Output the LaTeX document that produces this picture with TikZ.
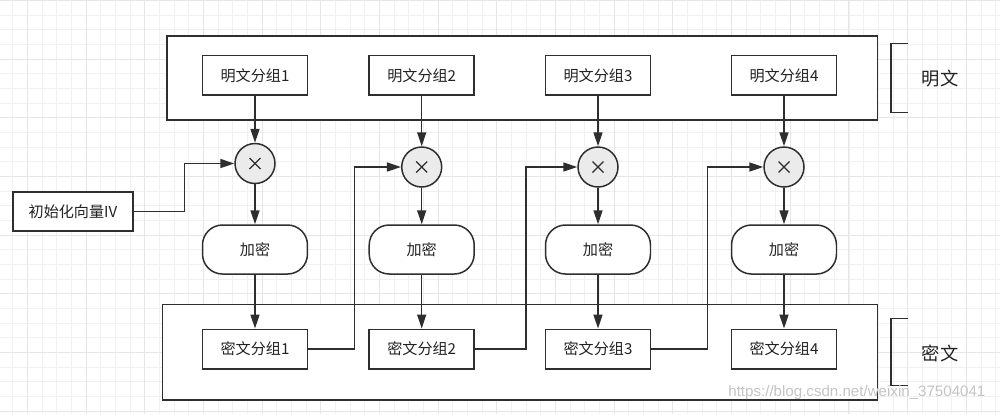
\documentclass[tikz,border=0pt]{standalone}
\usepackage{fontspec}
\setmainfont{Noto Sans CJK SC}
\newfontfamily\wmfont{Liberation Sans}
\usetikzlibrary{arrows.meta}
\definecolor{ln}{HTML}{2E2E2E}
\definecolor{txt}{HTML}{222222}
\definecolor{gminor}{HTML}{F0F0F0}
\definecolor{gmajor}{HTML}{E6E6E6}
\definecolor{xorfill}{HTML}{EBEBEB}
\definecolor{wm}{HTML}{C4C4C4}
\begin{document}
\begin{tikzpicture}[x=0.02cm,y=-0.02cm,
  line width=0.85pt,
  box/.style={draw=ln, fill=white, minimum width=2.1cm, minimum height=0.79cm, inner sep=0pt,
              font=\fontsize{8.6}{10}\selectfont, text=txt},
  group/.style={draw=ln, fill=white, inner sep=0pt},
  pill/.style={box, rounded corners=0.4cm, minimum height=0.98cm},
  xor/.style={circle, draw=ln, fill=xorfill, minimum size=0.8cm, inner sep=0pt,
              path picture={
                \draw[ln, line width=0.75pt]
                  ([shift={(-5.5,-5.5)}]path picture bounding box.center) --
                  ([shift={(5.5,5.5)}]path picture bounding box.center);
                \draw[ln, line width=0.75pt]
                  ([shift={(-5.5,5.5)}]path picture bounding box.center) --
                  ([shift={(5.5,-5.5)}]path picture bounding box.center);}},
  arr/.style={draw=ln, -{Triangle[length=0.28cm,width=0.18cm]}},
  conn/.style={draw=ln},
  lbl/.style={font=\fontsize{10.4}{12}\selectfont, text=txt}]

\useasboundingbox (0,0) rectangle (1000,414);
\fill[white] (0,0) rectangle (1000,414);

% grid
\foreach \i in {0,...,67} {
  \pgfmathsetmacro\gx{12.7+14.67*\i}
  \draw[gminor, line width=0.45pt] (\gx,0) -- (\gx,414);
}
\foreach \j in {0,...,27} {
  \pgfmathsetmacro\gy{0.33+14.67*\j}
  \draw[gminor, line width=0.45pt] (0,\gy) -- (1000,\gy);
}
\foreach \i in {0,...,16} {
  \pgfmathsetmacro\gx{27.37+58.68*\i}
  \draw[gmajor, line width=0.5pt] (\gx,0) -- (\gx,414);
}
\foreach \j in {0,...,7} {
  \pgfmathsetmacro\gy{0.33+58.68*\j}
  \draw[gmajor, line width=0.5pt] (0,\gy) -- (1000,\gy);
}

% group boxes
\node[group, minimum width=14.21cm, minimum height=1.686cm] (top) at (522.3,77.9) {};
\node[group, minimum width=14.31cm, minimum height=1.914cm] (bot) at (520,352.2) {};

% plaintext blocks
\node[box] (p1) at (255,75.3) {明文分组1};
\node[box] (p2) at (421.7,75.3) {明文分组2};
\node[box] (p3) at (598,75.3) {明文分组3};
\node[box] (p4) at (784,75.3) {明文分组4};

% xor circles
\node[xor] (x1) at (255,163.5) {};
\node[xor] (x2) at (421.7,167) {};
\node[xor] (x3) at (598,167) {};
\node[xor] (x4) at (784,167) {};

% encrypt
\node[pill] (e1) at (255,249.5) {加密};
\node[pill] (e2) at (421.7,249.5) {加密};
\node[pill] (e3) at (598,249.5) {加密};
\node[pill] (e4) at (784,249.5) {加密};

% ciphertext blocks
\node[box] (c1) at (255,349) {密文分组1};
\node[box] (c2) at (421.7,349) {密文分组2};
\node[box] (c3) at (598,349) {密文分组3};
\node[box] (c4) at (784,349) {密文分组4};

% IV
\node[box, minimum width=2.4cm, minimum height=0.78cm] (iv) at (73,211.5) {初始化向量IV};

% labels
\node[lbl] (lp) at (940,79) {明文};
\node[lbl] (lc) at (940,353) {密文};

% brackets
\draw[conn] (908,43.7) -| (891,112.7) -- (908,112.7);
\draw[conn] (908,318.3) -| (891,385.7) -- (908,385.7);

% bend coordinates
\coordinate (k0) at (184.3,0);
\coordinate (k1) at (354.7,0);
\coordinate (k2) at (526,0);
\coordinate (k3) at (707.3,0);

% vertical flow
\foreach \n in {1,2,3,4} {
  \draw[arr] (p\n) -- (x\n);
  \draw[arr] (x\n) -- (e\n);
  \draw[arr] (e\n) -- (c\n);
}

% feedback connectors
\draw[arr] (iv.east) -| (k0 |- x1.west) -- (x1.west);
\draw[arr] (c1.east) -| (k1 |- x2.west) -- (x2.west);
\draw[arr] (c2.east) -| (k2 |- x3.west) -- (x3.west);
\draw[arr] (c3.east) -| (k3 |- x4.west) -- (x4.west);

% watermark
\node[font=\wmfont\fontsize{8.6}{10}\selectfont, text=wm, anchor=east] (wmk) at (992,393) {https://blog.csdn.net/weixin\_37504041};
\end{tikzpicture}
\end{document}
